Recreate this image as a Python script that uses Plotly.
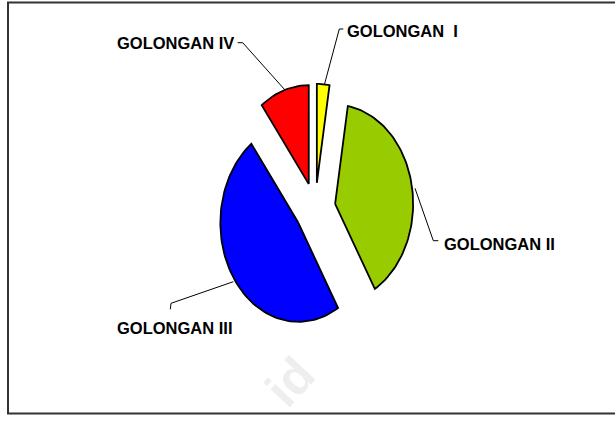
import numpy as np
import plotly.graph_objects as go

# ---- data ----
categories = ["GOLONGAN  I", "GOLONGAN II", "GOLONGAN III", "GOLONGAN IV"]
values = [2.6, 38.9, 48.2, 10.3]
colors = ["#FFFF00", "#99CC00", "#0000FF", "#FF0000"]

# ---- layout constants (pixels) ----
W, H = 615, 421
CX, CY = 315.2, 208.5     # pie centre
RX, RY = 78.0, 99.0       # pie radii (picture is horizontally squeezed)
PULL = 0.26               # explosion, fraction of radius


def px(x):
    return x / W


def py(y):
    return 1 - y / H


fig = go.Figure()

total = float(sum(values))
cum = 0.0
for name, v, c in zip(categories, values, colors):
    a0 = 2 * np.pi * cum / total
    a1 = 2 * np.pi * (cum + v) / total
    cum += v
    mid = (a0 + a1) / 2
    ox, oy = PULL * np.sin(mid), PULL * np.cos(mid)
    t = np.linspace(a0, a1, max(8, int(200 * v / total)))
    xs = np.concatenate([[ox], ox + np.sin(t), [ox]])
    ys = np.concatenate([[oy], oy + np.cos(t), [oy]])
    fig.add_trace(go.Scatter(
        x=xs, y=ys, mode="lines", fill="toself", fillcolor=c,
        line=dict(color="black", width=1.8), name=name.replace("  ", " "),
        hoverinfo="name", showlegend=False,
    ))

label_font = dict(family="Liberation Sans, Arial, sans-serif",
                  size=16.5, color="black", weight="bold")

# label placement: (text x, text y centre, anchor, leader path points)
label_cfg = [
    (345.0, 30.8, "left", [(343.3, 29.0), (339.3, 29.0), (324.3, 85.0)]),
    (441.7, 244.0, "left", [(415.0, 188.3), (433.3, 240.7), (438.3, 240.7)]),
    (115.0, 327.5, "left", [(233.3, 281.7), (171.0, 303.3), (170.3, 309.3)]),
    (235.5, 42.5, "right", [(237.7, 42.7), (242.7, 42.7), (285.0, 90.0)]),
]

annotations = []
shapes = []

# faint watermark (drawn first, underneath)
annotations.append(dict(x=px(290), y=py(382), xref="paper", yref="paper",
                        xanchor="center", yanchor="middle",
                        text="id", showarrow=False, textangle=-47,
                        font=dict(family="Liberation Sans, Arial, sans-serif", size=50,
                                  color="#eeeeee", weight="bold")))

for name, (tx, ty, anc, pts) in zip(categories, label_cfg):
    annotations.append(dict(
        x=px(tx), y=py(ty), xref="paper", yref="paper", xanchor=anc, yanchor="middle",
        text=name.replace(" ", "\u00a0"), showarrow=False, font=label_font,
    ))
    path = "M " + " L ".join(f"{px(a):.5f},{py(b):.5f}" for a, b in pts)
    shapes.append(dict(type="path", xref="paper", yref="paper", path=path,
                       line=dict(color="black", width=1)))

# chart frame (right edge lies outside the picture)
shapes.append(dict(type="rect", xref="paper", yref="paper",
                   x0=px(8), x1=px(660), y0=py(413.5), y1=py(2.5),
                   line=dict(color="#333333", width=2), layer="above"))

fig.update_layout(
    width=W, height=H,
    margin=dict(l=0, r=0, t=0, b=0),
    paper_bgcolor="white", plot_bgcolor="white",
    xaxis=dict(range=[-CX / RX, (W - CX) / RX], visible=False, fixedrange=True),
    yaxis=dict(range=[-(H - CY) / RY, CY / RY], visible=False, fixedrange=True),
    annotations=annotations, shapes=shapes, showlegend=False,
)

fig.write_html("out.html", config={"displayModeBar": False},
               post_script="document.body.style.margin='0px';document.body.style.overflow='hidden';")
